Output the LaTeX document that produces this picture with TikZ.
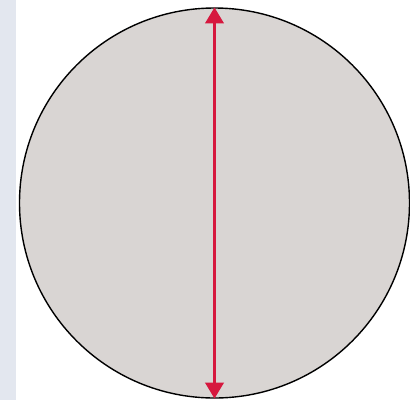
\documentclass[tikz,border=0pt]{standalone}
\usepackage{xcolor}
\usepackage{tikz}
\usetikzlibrary{arrows.meta}
\definecolor{stripblue}{HTML}{E3E7EF}
\definecolor{discgray}{HTML}{D9D5D3}
\definecolor{diamred}{HTML}{D6183E}

\begin{document}
\begin{tikzpicture}[x=1pt, y=-1pt,
  disc/.style={circle, draw=black, line width=1.4pt, fill=discgray, inner sep=0pt, minimum size=390pt},
  diam/.style={{Triangle[length=16pt, width=18pt]}-{Triangle[length=16pt, width=18pt]}, draw=diamred, line width=3.6pt}]
  \useasboundingbox (0,0) rectangle (410,400);
  \fill[stripblue] (0,0) rectangle (16,400);

  \node[disc] (disc) at (214.5,203) {};
  \draw[diam] (disc.north) -- (disc.south);
\end{tikzpicture}
\end{document}
